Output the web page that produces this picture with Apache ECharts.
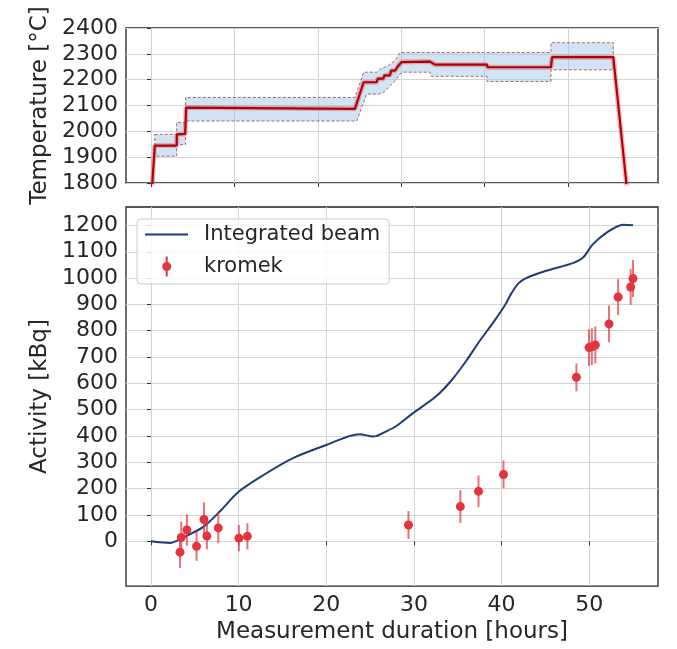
<!DOCTYPE html>
<html>
<head>
<meta charset="utf-8">
<script src="https://cdn.jsdelivr.net/npm/echarts@6/dist/echarts.min.js"></script>
<style>
  html, body { margin: 0; padding: 0; background: #fff; }
  #chart { width: 677px; height: 649px; }
</style>
</head>
<body>
<div id="chart"></div>
<script>
  // top panel: temperature trace (centre line) and its uncertainty band
  const tempTime = [0.1, 0.45, 3.08, 3.1, 4.1, 4.2, 24.45, 25.5, 27.06, 27.2, 27.86, 28.0, 28.66, 28.8, 29.26, 29.66, 30.06, 33.45, 34.05, 40.3, 40.35, 47.96, 48.1, 55.44, 57.1];
  const tempValue = [1770, 1945, 1945, 1988, 1990, 2092, 2087, 2190, 2190, 2204, 2204, 2217, 2217, 2235, 2235, 2254, 2268, 2270, 2258, 2258, 2248, 2248, 2287, 2287, 1770];

  const bandUpperTime = [0.45, 3.08, 3.08, 4.15, 4.15, 24.45, 25.5, 27.06, 27.5, 28.5, 29.3, 29.86, 47.96, 47.96, 55.44];
  const bandUpperValue = [1988, 1988, 2034, 2034, 2131, 2131, 2229, 2229, 2241, 2255, 2274, 2305, 2305, 2343, 2343];
  const bandLowerTime = [0.45, 3.08, 3.08, 4.15, 4.15, 24.66, 25.86, 27.3, 28.0, 28.66, 29.3, 29.86, 30.26, 33.45, 33.6, 40.3, 40.3, 47.96, 47.96, 55.44];
  const bandLowerValue = [1904, 1904, 1949, 1949, 2040, 2040, 2144, 2144, 2153, 2176, 2196, 2222, 2229, 2229, 2213, 2213, 2193, 2193, 2238, 2238];

  // bottom panel: integrated beam curve
  const beamTime = [0, 2.17, 3.5, 5.97, 7.87, 10.03, 12.8, 16.2, 20.0, 23.8, 25.35, 26.9, 28.0, 29.9, 32.5, 34.3, 36.0, 37.5, 39.0, 40.4, 41.1, 41.9, 42.8, 45.1, 48.15, 49.3, 50.4, 51.96, 53.86, 55.0];
  const beamActivity = [0, -6, 12, 55, 114, 189, 251, 316, 366, 407, 398, 419, 438, 487, 550, 612, 687, 761, 829, 898, 941, 979, 1000, 1028, 1057, 1078, 1128, 1172, 1203, 1201];

  // bottom panel: kromek measurements with errors
  const kromekTime = [3.31, 3.46, 4.1, 5.2, 6.05, 6.38, 7.68, 10.03, 11.0, 29.38, 35.3, 37.37, 40.22, 48.54, 49.98, 50.3, 50.7, 52.26, 53.3, 54.73, 55.0];
  const kromekActivity = [-41, 15, 43, -19, 83, 20, 51, 12, 19, 62, 132, 190, 254, 623, 736, 739, 746, 826, 928, 966, 998];
  const kromekError = [60, 60, 60, 55, 65, 50, 58, 50, 50, 53, 62, 60, 53, 53, 70, 70, 70, 70, 68, 68, 70];

  const hourTicks = [0, 10, 20, 30, 40, 50];
  const activityTicks = [0, 100, 200, 300, 400, 500, 600, 700, 800, 900, 1000, 1100, 1200];

  const font = "DejaVu Sans";
  const textColor = "#262626";
  const beamColor = "#1f3b78";
  const kromekColor = "#e2343f";
  const gridLine = { show: true, lineStyle: { color: "#d4d4d4", width: 1 } };
  const tick = { show: true, inside: false, length: 4, lineStyle: { color: "#333", width: 1 } };
  const tickText = { margin: 8, fontFamily: font, fontSize: 22, color: textColor, formatter: (v) => String(v) };
  const nameText = { fontFamily: font, fontSize: 23, color: textColor };

  const beamIcon = "path://M0,0L0.01,0L0.01,0.01Z M0,9.1L43,9.1L43,10.9L0,10.9Z M54,20L53.99,20L53.99,19.99Z";
  const kromekIcon = "path://M0,0L0.01,0L0.01,0.01Z M20.7,0L22.7,0L22.7,20L20.7,20Z " +
    "M17.2,10A4.5,4.5 0 1,1 26.2,10A4.5,4.5 0 1,1 17.2,10Z M54,20L53.99,20L53.99,19.99Z";

  const chart = echarts.init(document.getElementById("chart"), null, { renderer: "canvas" });

  chart.setOption({
    backgroundColor: "#fff",
    animation: false,
    textStyle: { fontFamily: font },
    grid: [
      { left: 126, right: 19, top: 28, height: 155, show: true, borderColor: "#222", borderWidth: 1.3, backgroundColor: "transparent" },
      { left: 126, right: 19, top: 207, height: 386, show: true, borderColor: "#222", borderWidth: 1.3, backgroundColor: "transparent" },
    ],
    xAxis: [
      {
        type: "value", gridIndex: 0, min: -3.0, max: 60.8,
        axisLine: { show: false },
        axisTick: Object.assign({ customValues: hourTicks }, tick),
        axisLabel: { show: false, customValues: hourTicks },
        splitLine: gridLine,
      },
      {
        type: "value", gridIndex: 1, min: -2.85, max: 57.85,
        name: "Measurement duration [hours]", nameLocation: "middle", nameGap: 30,
        nameTextStyle: nameText,
        axisLine: { show: false },
        axisTick: Object.assign({ customValues: hourTicks }, tick),
        axisLabel: Object.assign({ customValues: hourTicks }, tickText),
        splitLine: gridLine,
      },
    ],
    yAxis: [
      {
        type: "value", gridIndex: 0, min: 1800, max: 2400, interval: 100,
        name: "Temperature [°C]", nameLocation: "middle", nameGap: 67,
        nameTextStyle: nameText,
        axisLine: { show: false },
        axisTick: tick,
        axisLabel: tickText,
        splitLine: gridLine,
      },
      {
        type: "value", gridIndex: 1, min: -170, max: 1270,
        name: "Activity [kBq]", nameLocation: "middle", nameGap: 64,
        nameTextStyle: nameText,
        axisLine: { show: false },
        axisTick: Object.assign({ customValues: activityTicks }, tick),
        axisLabel: Object.assign({ customValues: activityTicks }, tickText),
        splitLine: gridLine,
      },
    ],
    legend: {
      left: 137, top: 219, orient: "vertical",
      padding: [5, 9, 7, 8],
      itemWidth: 54, itemHeight: 20, itemGap: 11,
      backgroundColor: "rgba(255,255,255,0.8)",
      borderColor: "#cccccc", borderWidth: 1, borderRadius: 4,
      itemStyle: { borderWidth: 0 },
      textStyle: { fontFamily: font, fontSize: 21, color: textColor },
      selectedMode: false,
      data: [
        { name: "Integrated beam", icon: beamIcon },
        { name: "kromek", icon: kromekIcon },
      ],
    },
    series: [
      {
        name: "band",
        type: "custom", xAxisIndex: 0, yAxisIndex: 0, silent: true, z: 1,
        data: [[bandUpperTime[0], bandUpperValue[0]]],
        renderItem: function (params, api) {
          const pts = [];
          bandUpperTime.forEach(function (t, i) { pts.push(api.coord([t, bandUpperValue[i]])); });
          for (let i = bandLowerTime.length - 1; i >= 0; i--) {
            pts.push(api.coord([bandLowerTime[i], bandLowerValue[i]]));
          }
          return {
            type: "polygon",
            shape: { points: pts },
            style: { fill: "rgba(150,195,228,0.45)", stroke: "rgba(160,50,60,0.75)", lineWidth: 1, lineDash: [3, 2] },
          };
        },
      },
      {
        name: "glow",
        type: "line", xAxisIndex: 0, yAxisIndex: 0, silent: true, z: 2,
        showSymbol: false, symbol: "none",
        data: tempTime.map((t, i) => [t, tempValue[i]]),
        lineStyle: { color: "rgba(225,60,60,0.35)", width: 5 },
      },
      {
        name: "temperature",
        type: "line", xAxisIndex: 0, yAxisIndex: 0, silent: true, z: 3,
        showSymbol: false, symbol: "none",
        data: tempTime.map((t, i) => [t, tempValue[i]]),
        lineStyle: { color: "#b0000c", width: 2.2 },
      },
      {
        name: "Integrated beam",
        type: "line", xAxisIndex: 1, yAxisIndex: 1, z: 3,
        showSymbol: false, symbol: "none", smooth: 0.3,
        data: beamTime.map((t, i) => [t, beamActivity[i]]),
        itemStyle: { color: beamColor },
        lineStyle: { color: beamColor, width: 2 },
      },
      {
        name: "kromek",
        type: "custom", xAxisIndex: 1, yAxisIndex: 1, z: 4,
        itemStyle: { color: kromekColor },
        encode: { x: 0, y: 1 },
        data: kromekTime.map((t, i) => [t, kromekActivity[i], kromekError[i]]),
        renderItem: function (params, api) {
          const t = api.value(0), a = api.value(1), e = api.value(2);
          const top = api.coord([t, a + e]);
          const bot = api.coord([t, a - e]);
          const c = api.coord([t, a]);
          return {
            type: "group",
            children: [
              { type: "line", shape: { x1: top[0], y1: top[1], x2: bot[0], y2: bot[1] }, style: { stroke: "rgba(226,52,63,0.7)", lineWidth: 2 } },
              { type: "circle", shape: { cx: c[0], cy: c[1], r: 4.5 }, style: { fill: kromekColor } },
            ],
          };
        },
      },
    ],
  });
</script>
</body>
</html>
